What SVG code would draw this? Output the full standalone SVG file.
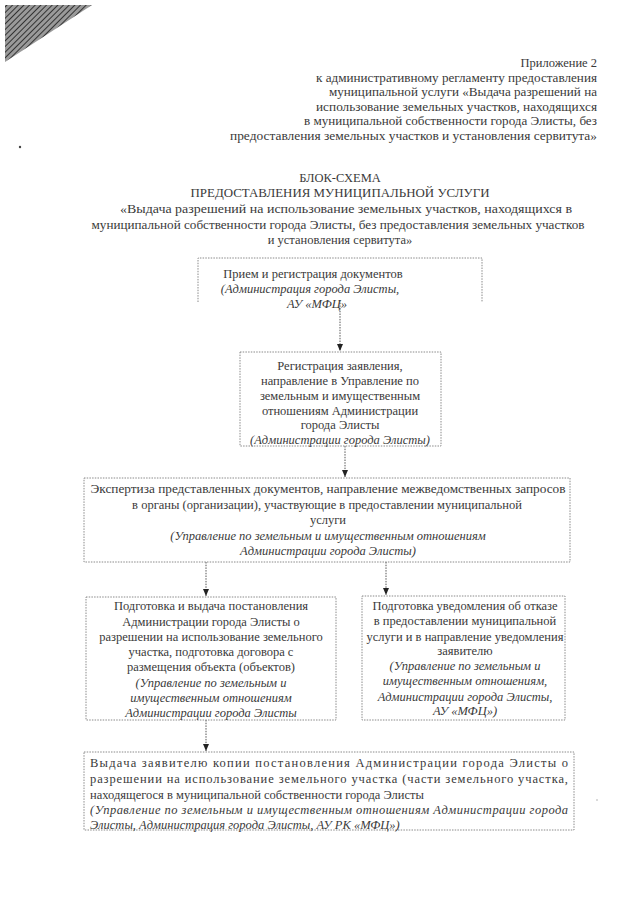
<svg xmlns="http://www.w3.org/2000/svg" width="640" height="905" viewBox="0 0 640 905" font-family="'Liberation Serif', 'Times New Roman', serif">
<style>
text{font-family:'Liberation Serif','Times New Roman',serif;font-size:12.5px;fill:#3a3a3a}
.i{font-style:italic}
.m{text-anchor:middle}
.e{text-anchor:end}
.box{fill:none;stroke:#8a8a8a;stroke-width:1;stroke-dasharray:1.5 1.2}
.con{fill:none;stroke:#555;stroke-width:1;stroke-dasharray:1.5 1.2}
</style>
<defs>
<pattern id="hatch" width="4" height="4" patternUnits="userSpaceOnUse" patternTransform="rotate(45)">
<rect width="4" height="4" fill="#9a9a9a"/>
<line x1="0" y1="0" x2="0" y2="4" stroke="#333" stroke-width="2"/>
</pattern>
<marker id="arr" markerWidth="8" markerHeight="8" refX="7" refY="4" orient="auto" markerUnits="userSpaceOnUse">
<path d="M0,1 L7,4 L0,7 Z" fill="#222"/>
</marker>
</defs>
<rect width="640" height="905" fill="#fff"/>
<polygon points="5,5 92,5 5,62" fill="url(#hatch)"/>
<circle cx="20" cy="147" r="1.2" fill="#444"/>
<circle cx="597" cy="800" r="0.8" fill="#aaa"/>

<g id="header">
<text class="e" x="597" y="67">Приложение 2</text>
<text class="e" x="597" y="82" textLength="281" lengthAdjust="spacingAndGlyphs">к административному регламенту предоставления</text>
<text class="e" x="597" y="96" textLength="268" lengthAdjust="spacingAndGlyphs">муниципальной услуги «Выдача разрешений на</text>
<text class="e" x="597" y="111" textLength="281" lengthAdjust="spacingAndGlyphs">использование земельных участков, находящихся</text>
<text class="e" x="597" y="125" textLength="293" lengthAdjust="spacingAndGlyphs">в муниципальной собственности города Элисты, без</text>
<text class="e" x="597" y="140" textLength="367" lengthAdjust="spacingAndGlyphs">предоставления земельных участков и установления сервитута»</text>
</g>

<g id="title">
<text class="m" x="340" y="182">БЛОК-СХЕМА</text>
<text class="m" x="340" y="197" textLength="299" lengthAdjust="spacingAndGlyphs">ПРЕДОСТАВЛЕНИЯ МУНИЦИПАЛЬНОЙ УСЛУГИ</text>
<text class="m" x="346" y="213" textLength="452" lengthAdjust="spacingAndGlyphs">«Выдача разрешений на использование земельных участков, находящихся в</text>
<text class="m" x="338" y="229" textLength="493" lengthAdjust="spacingAndGlyphs">муниципальной собственности города Элисты, без предоставления земельных участков</text>
<text class="m" x="340" y="244">и установления сервитута»</text>
</g>

<g id="connectors">
<line class="con" x1="340" y1="300" x2="340" y2="351" marker-end="url(#arr)"/>
<line class="con" x1="345" y1="446" x2="345" y2="477" marker-end="url(#arr)"/>
<line class="con" x1="206" y1="562" x2="206" y2="596" marker-end="url(#arr)"/>
<line class="con" x1="386" y1="562" x2="386" y2="595" marker-end="url(#arr)"/>
<line class="con" x1="206" y1="720" x2="206" y2="751" marker-end="url(#arr)"/>
</g>

<g id="n1">
<path class="box" d="M198,302 V258 H482 V302"/>
<text class="m" x="313" y="278">Прием и регистрация документов</text>
<text class="m i" x="310" y="293">(Администрация города Элисты,</text>
<text class="m i" x="317" y="308">АУ «МФЦ»</text>
</g>

<g id="n2">
<rect class="box" x="240" y="352" width="201" height="94"/>
<text class="m" x="340" y="370">Регистрация заявления,</text>
<text class="m" x="340" y="385">направление в Управление по</text>
<text class="m" x="340" y="400">земельным и имущественным</text>
<text class="m" x="340" y="415">отношениям Администрации</text>
<text class="m" x="340" y="429">города Элисты</text>
<text class="m i" x="340" y="444">(Администрации города Элисты)</text>
</g>

<g id="n3">
<rect class="box" x="84" y="478" width="486" height="84"/>
<text class="m" x="328" y="493" textLength="475" lengthAdjust="spacingAndGlyphs">Экспертиза представленных документов, направление межведомственных запросов</text>
<text class="m" x="327" y="509">в органы (организации), участвующие в предоставлении  муниципальной</text>
<text class="m" x="328" y="524">услуги</text>
<text class="m i" x="328" y="540">(Управление по земельным и имущественным отношениям</text>
<text class="m i" x="328" y="555">Администрации города Элисты)</text>
</g>

<g id="n4">
<rect class="box" x="86" y="597" width="250" height="123"/>
<text class="m" x="211" y="610">Подготовка и выдача постановления</text>
<text class="m" x="211" y="626">Администрации города Элисты о</text>
<text class="m" x="211" y="641">разрешении на использование земельного</text>
<text class="m" x="211" y="656">участка, подготовка договора с</text>
<text class="m" x="211" y="671">размещения объекта (объектов)</text>
<text class="m i" x="211" y="687">(Управление по земельным и</text>
<text class="m i" x="211" y="702">имущественным отношениям</text>
<text class="m i" x="211" y="717">Администрации города Элисты</text>
</g>

<g id="n5">
<rect class="box" x="362" y="596" width="203" height="124"/>
<text class="m" x="465" y="610">Подготовка уведомления об отказе</text>
<text class="m" x="465" y="625">в предоставлении муниципальной</text>
<text class="m" x="465" y="641">услуги и в направление уведомления</text>
<text class="m" x="465" y="655">заявителю</text>
<text class="m i" x="465" y="670">(Управление по земельным и</text>
<text class="m i" x="465" y="685">имущественным отношениям,</text>
<text class="m i" x="465" y="701">Администрации города Элисты,</text>
<text class="m i" x="465" y="715">АУ «МФЦ»)</text>
</g>

<g id="n6">
<rect class="box" x="84" y="752" width="490" height="78"/>
<text x="90" y="767" textLength="478" lengthAdjust="spacing">Выдача заявителю копии постановления Администрации города Элисты о</text>
<text x="90" y="783" textLength="478" lengthAdjust="spacing">разрешении на использование земельного участка (части земельного участка,</text>
<text x="90" y="799">находящегося в муниципальной собственности города Элисты</text>
<text class="i" x="90" y="814" textLength="478" lengthAdjust="spacing">(Управление по земельным и имущественным отношениям Администрации города</text>
<text class="i" x="90" y="829">Элисты, Администрация города Элисты, АУ РК «МФЦ»)</text>
</g>
</svg>
